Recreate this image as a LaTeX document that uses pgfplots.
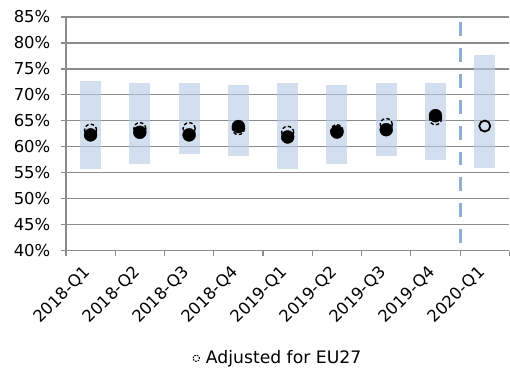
\documentclass[border=0pt]{standalone}
\usepackage{fontspec}
\setmainfont{DejaVu Sans}
\usepackage{pgfplots}
\usepackage{pgfplotstable}
\pgfplotsset{compat=1.18}
\definecolor{barblue}{HTML}{B8CCE4}
\definecolor{lineblue}{HTML}{8EAED6}
\definecolor{gridgray}{HTML}{8C8C8C}

\pgfplotstableread{
x low high
0 55.7 72.6
1 56.75 72.3
2 58.6 72.3
3 58.2 71.9
4 55.7 72.3
5 56.75 71.9
6 58.2 72.3
7 57.5 72.3
8 56.0 77.7
}\bars

\pgfplotstableread{
x y
0 62.3
1 62.8
2 62.3
3 63.9
4 61.9
5 62.85
6 63.3
7 66.0
}\dots

\pgfplotstableread{
x y
0 63.2
1 63.5
2 63.5
3 63.5
4 62.8
5 63.1
6 64.3
7 65.4
}\adjusted

\begin{document}
\fontsize{16.5}{19}\selectfont
\begin{tikzpicture}
\begin{axis}[
  scale only axis,
  width=444bp, height=234bp,
  xmin=-0.5, xmax=8.5,
  ymin=40, ymax=85,
  axis x line*=bottom,
  axis y line*=left,
  axis line style={gridgray, line width=1.2bp, -},
  ytick={40,45,...,85},
  yticklabel={\pgfmathprintnumber{\tick}\%},
  ymajorgrids,
  grid style={gridgray, line width=1.2bp},
  xtick={0,...,8},
  xticklabels={2018-Q1,2018-Q2,2018-Q3,2018-Q4,2019-Q1,2019-Q2,2019-Q3,2019-Q4,2020-Q1},
  minor xtick={-0.5,0.5,...,8.5},
  major x tick style={draw=none},
  minor x tick style={gridgray, line width=1.2bp},
  ytick style={gridgray, line width=1.2bp},
  tick align=outside,
  major tick length=5bp,
  minor tick length=5bp,
  xticklabel style={yshift=-13bp, xshift=-2bp, rotate=45, anchor=east, inner sep=1bp},
  yticklabel style={xshift=-5bp},
  tick label style={font=\fontsize{16.5}{19}\selectfont},
  /pgf/number format/assume math mode=true,
  clip=false,
  legend style={at={(axis description cs:0.478,-0.46)}, anchor=center, draw=none, fill=none,
    font=\fontsize{17.3}{19}\selectfont, inner sep=0pt},
  legend image code/.code={\draw[black, dash pattern=on 1.6bp off 1.1bp, line width=1bp] (0bp,0bp) circle (3.2bp);},
]
\coordinate (SW) at (rel axis cs:0,0);
% floating bars
\addplot[forget plot, draw=none, mark=none,
  error bars/.cd, y dir=plus, y explicit, error mark=none,
  error bar style={draw=barblue, draw opacity=0.62, line width=21bp, solid}]
  table[x=x, y=low, y error expr=\thisrow{high}-\thisrow{low}] {\bars};
% dashed vertical separator
\addplot[forget plot, lineblue, line width=3bp, dash pattern=on 14bp off 12bp]
  coordinates {(7.5,84.1) (7.5,40.8)};
% adjusted for EU27
\addplot[only marks, mark=o, mark size=6bp,
  mark options={black, line width=1.4bp, dash pattern=on 3.5bp off 2.2bp}]
  table[x=x, y=y] {\adjusted};
\addlegendentry{\hspace{4bp}Adjusted for EU27}
% main dots
\addplot[forget plot, only marks, mark=*, mark size=6.5bp, mark options={black, fill=black, solid}]
  table[x=x, y=y] {\dots};
% 2020-Q1 open circle
\addplot[forget plot, only marks, mark=o, mark size=5.5bp, mark options={black, line width=1.8bp, solid}]
  coordinates {(8,64.0)};
\end{axis}
\path (SW) ++(-66bp,-118bp) rectangle ++(510bp,369bp);
\end{tikzpicture}
\end{document}
